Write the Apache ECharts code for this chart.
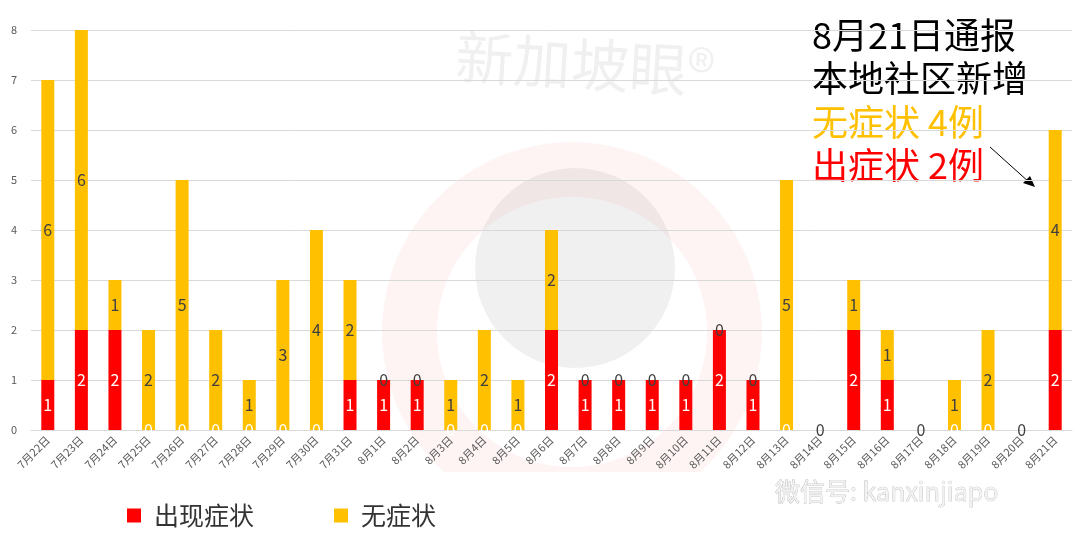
<!DOCTYPE html>
<html>
<head>
<meta charset="utf-8">
<script src="https://cdn.jsdelivr.net/npm/echarts@6/dist/echarts.min.js"></script>
<style>
html,body{margin:0;padding:0;background:#fff;}
#c{width:1080px;height:539px;}
</style>
</head>
<body>
<div id="c"></div>
<script>
var categories = ['7月22日','7月23日','7月24日','7月25日','7月26日','7月27日','7月28日','7月29日','7月30日','7月31日',
  '8月1日','8月2日','8月3日','8月4日','8月5日','8月6日','8月7日','8月8日','8月9日','8月10日',
  '8月11日','8月12日','8月13日','8月14日','8月15日','8月16日','8月17日','8月18日','8月19日','8月20日','8月21日'];
var symptomatic  = [1,2,2,0,0,0,0,0,0,1, 1,1,0,0,0,2,1,1,1,1, 2,1,0,0,2,1,0,0,0,0,2];
var asymptomatic = [6,6,1,2,5,2,1,3,4,2, 0,0,1,2,1,2,0,0,0,0, 0,0,5,0,1,1,0,1,2,0,4];
var yTicks = [0,1,2,3,4,5,6,7,8];
var seriesNames = ['出现症状','无症状'];
var annotationLines = ['8月21日通报','本地社区新增','无症状 4例','出症状 2例'];

var chart = echarts.init(document.getElementById('c'));
var font = '"Noto Sans CJK SC","Noto Sans",sans-serif';
chart.setOption({
  animation: false,
  textStyle: {fontFamily: font},
  grid: {left: 31, right: 8, top: 30, bottom: 109, containLabel: false},
  legend: {
    bottom: 6, left: 122, itemGap: 80, itemWidth: 14, itemHeight: 14, icon: 'rect',
    data: seriesNames,
    textStyle: {fontSize: 25, color: '#333', fontFamily: font, padding: [0,0,0,8]}
  },
  xAxis: {
    type: 'category', data: categories,
    axisLine: {lineStyle: {color: '#d9d9d9', width: 1}},
    axisTick: {show: false},
    axisLabel: {rotate: 45, fontSize: 11, color: '#595959', interval: 0, margin: 8}
  },
  yAxis: {
    type: 'value', min: 0, max: 8, interval: 1,
    axisLine: {show: false}, axisTick: {show: false},
    axisLabel: {fontSize: 11, color: '#595959', margin: 14,
      formatter: function(v){ return yTicks.indexOf(v) >= 0 ? String(v) : ''; }},
    splitLine: {lineStyle: {color: '#d9d9d9', width: 1}}
  },
  series: [
    {name: seriesNames[0], type: 'bar', stack: 's', data: symptomatic, barWidth: 13,
      itemStyle: {color: '#FF0000'},
      label: {show: true, position: 'inside', color: '#fff', fontSize: 16, fontFamily: font}},
    {name: seriesNames[1], type: 'bar', stack: 's', data: asymptomatic, barWidth: 13,
      itemStyle: {color: '#FFC000'},
      label: {show: true, position: 'inside', color: '#404040', fontSize: 16, fontFamily: font}}
  ],
  graphic: [
    {type: 'group', silent: true, z: -10, clipPath: {type: 'rect', shape: {x: 0, y: 0, width: 1080, height: 472}}, children: [
      {type: 'ring', shape: {cx: 572, cy: 332, r: 190, r0: 135}, style: {fill: 'rgba(255,0,0,0.045)'}}
    ]},
    {type: 'circle', shape: {cx: 575, cy: 268, r: 100}, style: {fill: 'rgba(0,0,0,0.06)'}, silent: true, z: -10},
    {type: 'text', x: 585, y: 64, rotation: -0.06, style: {text: '新加坡眼®', font: '58px ' + font, fill: 'rgba(0,0,0,0.06)', align: 'center', verticalAlign: 'middle'}, silent: true, z: -10},
    {type: 'text', x: 812, y: 35, style: {text: annotationLines[0], font: '36px ' + font, fill: '#000', verticalAlign: 'middle'}},
    {type: 'text', x: 812, y: 78, style: {text: annotationLines[1], font: '36px ' + font, fill: '#000', verticalAlign: 'middle'}},
    {type: 'text', x: 812, y: 122, style: {text: annotationLines[2], font: '36px ' + font, fill: '#FFC000', verticalAlign: 'middle'}},
    {type: 'text', x: 812, y: 165, style: {text: annotationLines[3], font: '36px ' + font, fill: '#FF0000', verticalAlign: 'middle'}},
    {type: 'line', shape: {x1: 990, y1: 147, x2: 1030, y2: 183}, style: {stroke: '#000', lineWidth: 1}},
    {type: 'polygon', shape: {points: [[1035,187],[1023,183],[1030,176]]}, style: {fill: '#000'}},
    {type: 'text', x: 775, y: 491, style: {text: '微信号: kanxinjiapo', font: '25px ' + font, fill: '#f2f2f2', stroke: '#a0a0a0', lineWidth: 0.5, verticalAlign: 'middle'}, silent: true}
  ]
});
</script>
</body>
</html>
